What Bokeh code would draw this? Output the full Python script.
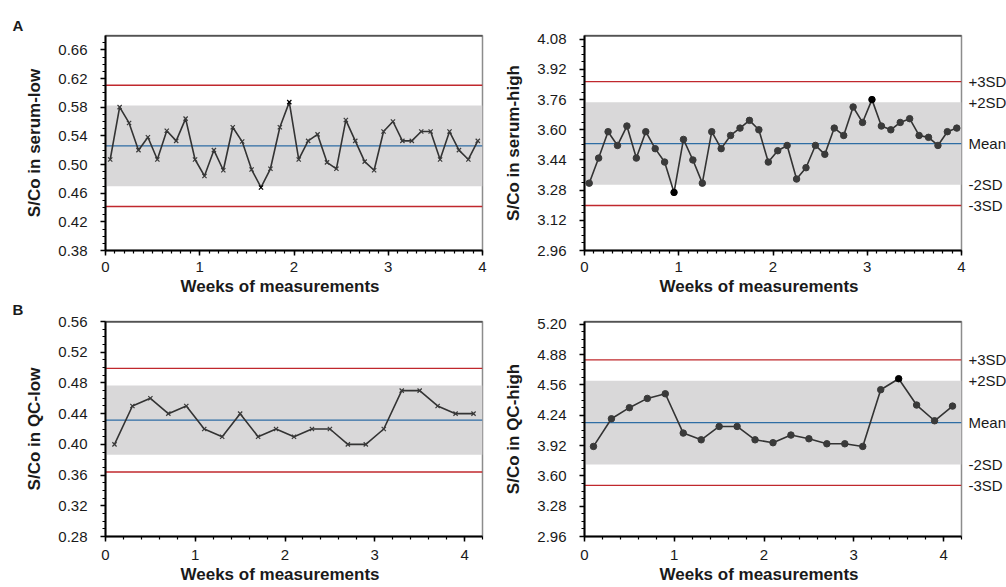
from bokeh.plotting import figure
from bokeh.models import (FixedTicker, Span, BoxAnnotation, LinearAxis, Range1d, Title,
                          CustomJSTickFormatter, NumeralTickFormatter)
from bokeh.layouts import column, row
from bokeh.embed import file_html
from bokeh.resources import INLINE
import numpy as np

FONT = "Liberation Sans"

# ---------------- data ----------------
serum_weeks = [0.05, 0.15, 0.25, 0.35, 0.45, 0.55, 0.65, 0.75, 0.85, 0.95,
               1.05, 1.15, 1.25, 1.35, 1.45, 1.55, 1.65, 1.75, 1.85, 1.95,
               2.05, 2.15, 2.25, 2.35, 2.45, 2.55, 2.65, 2.75, 2.85, 2.95,
               3.05, 3.15, 3.25, 3.35, 3.45, 3.55, 3.65, 3.75, 3.85, 3.95]
serum_low = [0.507, 0.580, 0.558, 0.520, 0.538, 0.507, 0.547, 0.533, 0.564, 0.507,
             0.484, 0.520, 0.492, 0.552, 0.532, 0.493, 0.468, 0.494, 0.552, 0.587,
             0.507, 0.533, 0.542, 0.503, 0.494, 0.562, 0.533, 0.504, 0.492, 0.546,
             0.560, 0.533, 0.533, 0.546, 0.546, 0.507, 0.546, 0.520, 0.507, 0.533]
serum_high = [3.317, 3.450, 3.590, 3.517, 3.620, 3.450, 3.590, 3.500, 3.429, 3.268,
              3.549, 3.440, 3.317, 3.590, 3.500, 3.570, 3.609, 3.650, 3.600, 3.429,
              3.489, 3.517, 3.339, 3.399, 3.517, 3.470, 3.609, 3.570, 3.721, 3.639,
              3.760, 3.620, 3.600, 3.639, 3.659, 3.570, 3.560, 3.517, 3.590, 3.609]
qc_weeks = [0.1, 0.3, 0.5, 0.7, 0.9, 1.1, 1.3, 1.5, 1.7, 1.9, 2.1,
            2.3, 2.5, 2.7, 2.9, 3.1, 3.3, 3.5, 3.7, 3.9, 4.1]
qc_low = [0.40, 0.45, 0.46, 0.44, 0.45, 0.42, 0.41, 0.44, 0.41, 0.42, 0.41,
          0.42, 0.42, 0.40, 0.40, 0.42, 0.47, 0.47, 0.45, 0.44, 0.44]
qc_high = [3.911, 4.203, 4.320, 4.418, 4.467, 4.052, 3.981, 4.122, 4.122, 3.981, 3.950,
           4.031, 3.992, 3.939, 3.939, 3.911, 4.510, 4.626, 4.348, 4.182, 4.337]

# control limits (mean, SD)
serum_low_mean, serum_low_sd = 0.526, 0.0282
serum_high_mean, serum_high_sd = 3.527, 0.1095
qc_low_mean, qc_low_sd = 0.4315, 0.0225
qc_high_mean, qc_high_sd = 4.162, 0.221

# axis tick labels
serum_low_yticks = [0.38, 0.42, 0.46, 0.50, 0.54, 0.58, 0.62, 0.66]
serum_high_yticks = [2.96, 3.12, 3.28, 3.44, 3.60, 3.76, 3.92, 4.08]
qc_low_yticks = [0.28, 0.32, 0.36, 0.40, 0.44, 0.48, 0.52, 0.56]
qc_high_yticks = [2.96, 3.28, 3.60, 3.92, 4.24, 4.56, 4.88, 5.20]
week_ticks = [0, 1, 2, 3, 4]
limit_names = ["-3SD", "-2SD", "Mean", "+2SD", "+3SD"]
x_title = "Weeks of measurements"

# ---------------- style ----------------
LINE_C = "#333333"
RED = "#c0282d"
BLUE = "#2e6da4"
BAND = "#d9d8d9"
TXT = "#1a1a1a"


def panel(weeks, vals, mean, sd, yr, yticks, yminor_step, xr, xminor_step, ylabel,
          marker, borders, xlab_standoff, side_labels=False, letter=None):
    left, right, top, bottom = borders
    p = figure(frame_width=377, frame_height=215,
               x_range=Range1d(*xr), y_range=Range1d(*yr),
               output_backend="svg", toolbar_location=None,
               min_border_left=left, min_border_right=right,
               min_border_top=top, min_border_bottom=bottom)
    p.grid.visible = False
    p.outline_line_color = "#8c8c8c"
    p.outline_line_width = 1.5
    p.background_fill_color = "white"
    p.border_fill_color = "white"

    # band and limit lines
    p.add_layout(BoxAnnotation(bottom=mean - 2 * sd, top=mean + 2 * sd, fill_color=BAND,
                               fill_alpha=1.0, line_color=None, level="underlay"))
    p.add_layout(Span(location=mean + 3 * sd, dimension="width", line_color=RED,
                      line_width=1.3, level="underlay"))
    p.add_layout(Span(location=mean - 3 * sd, dimension="width", line_color=RED,
                      line_width=1.3, level="underlay"))
    p.add_layout(Span(location=mean, dimension="width", line_color=BLUE,
                      line_width=1.3, level="underlay"))
    p.add_layout(Span(location=yr[1], dimension="width", line_color="#1a1a1a",
                      line_width=2))

    colors = ["#000000" if abs(v - mean) > 2 * sd else "#3a3a3a" for v in vals]
    p.line(weeks, vals, line_color=LINE_C, line_width=1.6)
    if marker == "x":
        p.scatter(weeks, vals, marker="x", size=6, line_color=colors, line_width=1.2)
    else:
        p.scatter(weeks, vals, marker="circle", size=6.5, fill_color=colors,
                  line_color=colors)

    # y axis
    ya = p.yaxis[0]
    ya.ticker = FixedTicker(ticks=yticks,
                            minor_ticks=list(np.arange(yr[0], yr[1] + 1e-9, yminor_step)))
    ya.formatter = NumeralTickFormatter(format="0.00")
    ya.axis_label = ylabel
    ya.axis_label_text_font = FONT
    ya.axis_label_text_font_style = "bold"
    ya.axis_label_text_font_size = "17px"
    ya.axis_label_text_color = TXT
    ya.axis_label_standoff = 11
    ya.major_label_standoff = 13

    # x axis
    xa = p.xaxis[0]
    xa.ticker = FixedTicker(ticks=week_ticks,
                            minor_ticks=list(np.arange(xr[0], xr[1] + 1e-9, xminor_step)))
    xa.major_label_standoff = xlab_standoff

    for ax in (xa, ya):
        ax.axis_line_color = "black"
        ax.axis_line_width = 2
        ax.major_tick_line_color = "black"
        ax.minor_tick_line_color = "black"
        ax.major_tick_line_width = 1.5
        ax.minor_tick_line_width = 1.2
        ax.major_tick_in = 0
        ax.major_tick_out = 5
        ax.minor_tick_in = 0
        ax.minor_tick_out = 3
        ax.major_label_text_font = FONT
        ax.major_label_text_font_size = "15px"
        ax.major_label_text_color = TXT

    # x title (below the axis)
    p.add_layout(Title(text=x_title, align="left", offset=75, vertical_align="bottom",
                       standoff=0, text_font=FONT, text_font_style="bold",
                       text_font_size="17px", text_color=TXT), "below")

    if side_labels:
        ticks = [mean - 3 * sd, mean - 2 * sd, mean, mean + 2 * sd, mean + 3 * sd]
        ra = LinearAxis(ticker=FixedTicker(ticks=ticks),
                        formatter=CustomJSTickFormatter(args=dict(names=limit_names),
                                                        code="return names[index];"),
                        axis_line_color=None, major_tick_line_color=None,
                        minor_tick_line_color=None, major_tick_out=0, major_tick_in=0,
                        major_label_standoff=7, major_label_text_font=FONT,
                        major_label_text_font_size="15px", major_label_text_color=TXT)
        p.add_layout(ra, "right")

    if letter:
        txt, off, sto = letter
        p.title.text = txt
        p.title.align = "left"
        p.title.offset = off
        p.title.vertical_align = "top"
        p.title.standoff = sto
        p.title.text_font = FONT
        p.title.text_font_style = "bold"
        p.title.text_font_size = "15px"
        p.title.text_color = TXT
    return p


p1 = panel(serum_weeks, serum_low, serum_low_mean, serum_low_sd, (0.38, 0.68),
           serum_low_yticks, 0.01, (0, 4), 0.1, "S/Co in serum-low", "x",
           (105, 19, 35, 49), 6, letter=("A", -93, 0))
p2 = panel(serum_weeks, serum_high, serum_high_mean, serum_high_sd, (2.96, 4.10),
           serum_high_yticks, 0.04, (0, 4), 0.1, "S/Co in serum-high", "o",
           (82, 45, 35, 49), 6, side_labels=True)
p3 = panel(qc_weeks, qc_low, qc_low_mean, qc_low_sd, (0.28, 0.56),
           qc_low_yticks, 0.01, (0, 4.2), 0.2, "S/Co in QC-low", "x",
           (105, 19, 22, 51), 8, letter=("B", -93, 3))
p4 = panel(qc_weeks, qc_high, qc_high_mean, qc_high_sd, (2.96, 5.23),
           qc_high_yticks, 0.08, (0, 4.2), 0.2, "S/Co in QC-high", "o",
           (82, 45, 22, 51), 8, side_labels=True)

layout = column(row(p1, p2), row(p3, p4))
open("out.html", "w").write(file_html(layout, INLINE))
